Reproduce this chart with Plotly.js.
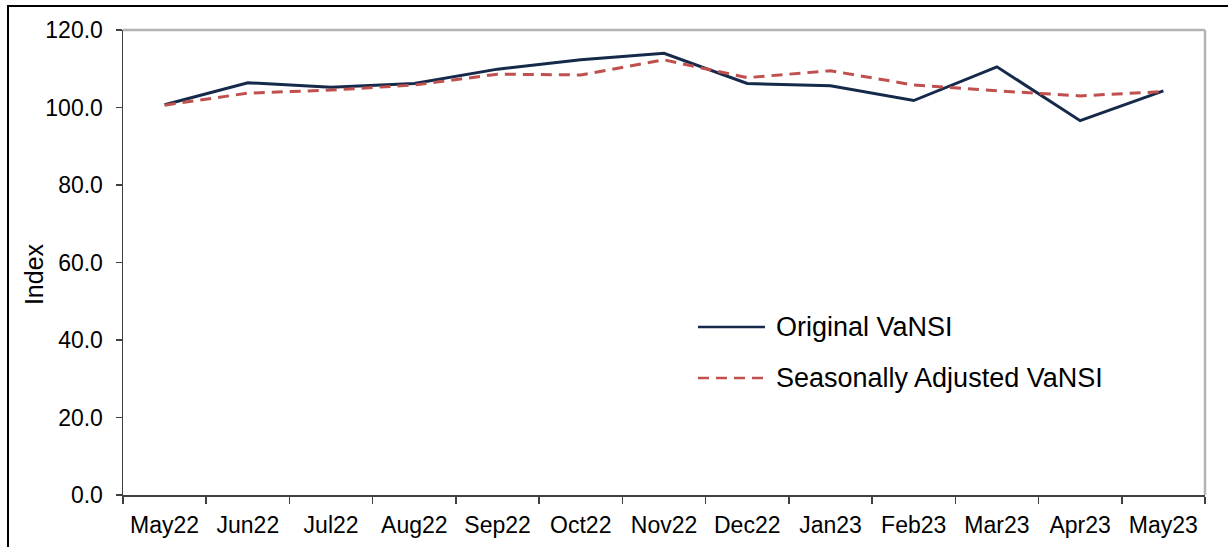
<!DOCTYPE html>
<html>
<head>
<meta charset="utf-8">
<script src="https://cdn.plot.ly/plotly-3.0.1.min.js"></script>
<style>
  html, body { margin: 0; padding: 0; background: #ffffff; }
  #wrap { position: relative; width: 1228px; height: 547px; overflow: hidden; }
  #chart { position: absolute; left: 0; top: 0; width: 1228px; height: 547px; }
  #frame { position: absolute; left: 7px; top: 5px; width: 1240px; height: 560px;
           border: 2px solid #000; box-sizing: border-box; pointer-events: none; }
</style>
</head>
<body>
<div id="wrap">
  <div id="chart"></div>
  <div id="frame"></div>
</div>
<script>
const months = ["May22","Jun22","Jul22","Aug22","Sep22","Oct22","Nov22","Dec22","Jan23","Feb23","Mar23","Apr23","May23"];
const originalVaNSI = [100.7,106.4,105.2,106.2,109.9,112.3,114.0,106.2,105.6,101.8,110.5,96.6,104.3];
const seasonallyAdjustedVaNSI = [100.6,103.7,104.5,105.8,108.6,108.4,112.3,107.7,109.5,105.8,104.3,103.0,104.1];
const seriesNames = ["Original VaNSI","Seasonally Adjusted VaNSI"];
const yTicks = [0,20,40,60,80,100,120];

const navy = "#15294a";
const red = "#c0504d";
const fontFam = "Liberation Sans, Arial, sans-serif";

const traces = [
  { x: months, y: originalVaNSI, name: seriesNames[0], type: "scatter", mode: "lines",
    line: { color: navy, width: 3 }, showlegend: false },
  { x: months, y: seasonallyAdjustedVaNSI, name: seriesNames[1], type: "scatter", mode: "lines",
    line: { color: red, width: 3, dash: "11px,7px" }, showlegend: false }
];

const layout = {
  width: 1228, height: 547,
  margin: { l: 123, r: 23, t: 30, b: 52, pad: 0 },
  paper_bgcolor: "rgba(0,0,0,0)", plot_bgcolor: "#ffffff",
  font: { family: fontFam, size: 23, color: "#000" },
  showlegend: false,
  xaxis: {
    type: "category", categoryorder: "array", categoryarray: months,
    range: [-0.5, 12.5], showgrid: false, zeroline: false,
    showline: true, linecolor: "#404040", linewidth: 1.5,
    ticks: "outside", tickson: "boundaries", ticklen: 7, tickcolor: "#404040", tickwidth: 1.5,
    tickfont: { family: fontFam, size: 23, color: "#000" },
    ticklabelstandoff: 9, fixedrange: true
  },
  yaxis: {
    range: [0, 120], tickvals: yTicks, tickformat: ".1f",
    showgrid: false, zeroline: false,
    showline: true, linecolor: "#404040", linewidth: 1.5,
    ticks: "outside", ticklen: 6, tickcolor: "#404040", tickwidth: 1.5,
    tickfont: { family: fontFam, size: 23, color: "#000" },
    ticklabelstandoff: 8, fixedrange: true
  },
  shapes: [
    { type: "line", xref: "paper", yref: "paper", x0: 0, x1: 1, y0: 1, y1: 1,
      line: { color: "#b3b3b3", width: 2.5 }, layer: "below" },
    { type: "line", xref: "paper", yref: "paper", x0: 1, x1: 1, y0: 0, y1: 1,
      line: { color: "#b3b3b3", width: 2.5 }, layer: "below" },
    { type: "line", xref: "paper", yref: "paper", x0: 0.5314, x1: 0.5933, y0: 0.3613, y1: 0.3613,
      line: { color: navy, width: 2.5 } },
    { type: "line", xref: "paper", yref: "paper", x0: 0.5314, x1: 0.5933, y0: 0.2516, y1: 0.2516,
      line: { color: red, width: 2.5, dash: "11px,7px" } }
  ],
  annotations: [
    { text: "Index", xref: "paper", yref: "paper", x: -0.0823, y: 0.475, textangle: -90,
      showarrow: false, xanchor: "center", yanchor: "middle", font: { size: 25, color: "#000", family: fontFam } },
    { text: seriesNames[0], xref: "paper", yref: "paper", x: 0.6017, y: 0.3613,
      showarrow: false, xanchor: "left", yanchor: "middle", font: { size: 27, color: "#000", family: fontFam } },
    { text: seriesNames[1], xref: "paper", yref: "paper", x: 0.6017, y: 0.2516,
      showarrow: false, xanchor: "left", yanchor: "middle", font: { size: 27, color: "#000", family: fontFam } }
  ]
};

Plotly.newPlot("chart", traces, layout, { staticPlot: true, displayModeBar: false });
</script>
</body>
</html>
